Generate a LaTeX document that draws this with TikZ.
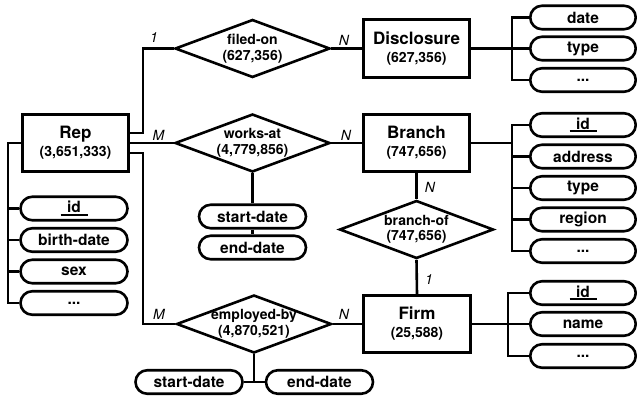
\documentclass[tikz,border=0pt]{standalone}
\usepackage{fontspec}
\setmainfont{TeX Gyre Heros}
\usetikzlibrary{shapes.geometric,shapes.misc}
\newcommand\idul{\makebox[27pt]{id}\llap{\rule[-2.8pt]{27pt}{2pt}}}
\newcommand\numf{\fontsize{14}{18}\selectfont}
\begin{document}
\begin{tikzpicture}[x=1pt,y=-1pt,line width=2.6pt,
  ent/.style={draw, rectangle, minimum width=106.5pt, minimum height=57.5pt, inner sep=0pt, align=center, font=\bfseries\fontsize{17}{18}\selectfont},
  rel/.style={draw, diamond, minimum width=155pt, minimum height=58pt, inner sep=0pt},
  rtext/.style={align=center, inner sep=0pt, font=\bfseries\fontsize{14}{15.5}\selectfont},
  attr/.style={draw, rounded rectangle, minimum width=107pt, minimum height=23.5pt, inner sep=0pt, font=\bfseries\fontsize{15.5}{16}\selectfont},
  rattr/.style={attr, minimum width=105.5pt},
  card/.style={font=\itshape\fontsize{14}{14}\selectfont, inner sep=0pt},
]
\useasboundingbox (0,0) rectangle (637,397);

% entities
\node[ent] (rep) at (75.5,143) {Rep\\{\numf (3,651,333)}};
\node[ent] (disc) at (416.5,48.5) {Disclosure\\{\numf (627,356)}};
\node[ent] (branch) at (416.5,143) {Branch\\{\numf (747,656)}};
\node[ent] (firm) at (417,324) {Firm\\{\numf (25,588)}};

% relationships
\node[rel, label={[rtext]center:{filed-on\\(627,356)}}] (filed) at (252.5,48.5) {};
\node[rel, label={[rtext]center:{works-at\\(4,779,856)}}] (works) at (252.5,143) {};
\node[rel, label={[rtext]center:{employed-by\\(4,870,521)}}] (employed) at (254,324) {};
\node[rel, minimum width=154pt, label={[rtext]center:{branch-of\\(747,656)}}] (branchof) at (416.5,229.5) {};

% Rep attributes
\node[attr] (rid) at (74,208.5) {\idul};
\node[attr] (rbirth) at (74,240) {birth-date};
\node[attr] (rsex) at (74,271.5) {sex};
\node[attr] (rdots) at (74,303) {...};

% works-at attributes
\node[attr] (wstart) at (252.5,216.5) {start-date};
\node[attr] (wend) at (252.5,247.5) {end-date};

% employed-by attributes
\node[attr] (estart) at (189,382) {start-date};
\node[attr] (eend) at (319.5,382) {end-date};

% Disclosure attributes
\node[rattr] (ddate) at (583,17.5) {date};
\node[rattr] (dtype) at (583,48.5) {type};
\node[rattr] (ddots) at (583,80) {...};

% Branch attributes
\node[rattr] (bid) at (583,125) {\idul};
\node[rattr] (baddr) at (583,156.5) {address};
\node[rattr] (btype) at (583,188) {type};
\node[rattr] (bregion) at (583,219.5) {region};
\node[rattr] (bdots) at (583,251) {...};

% Firm attributes
\node[rattr] (fid) at (583,293) {\idul};
\node[rattr] (fname) at (583,324) {name};
\node[rattr] (fdots) at (583,356) {...};

% bus coordinates
\coordinate (rbus) at (8,143);
\coordinate (rtop) at (143,133);
\coordinate (rbot) at (143,153);
\coordinate (dbus) at (512,48.5);
\coordinate (bbus) at (512,143);
\coordinate (fbus) at (508,324);

% connectors from Rep
\draw (rep.east |- rtop) -- (rtop) |- (filed.west);
\draw (rep.east) -- (works.west);
\draw (rep.east |- rbot) -- (rbot) |- (employed.west);
\draw (rep.west) -- (rbus) |- (rdots.west);
\draw (rid.west) -- (rid.west -| rbus);
\draw (rbirth.west) -- (rbirth.west -| rbus);
\draw (rsex.west) -- (rsex.west -| rbus);

% relationships to entities
\draw (filed.east) -- (disc.west);
\draw (works.east) -- (branch.west);
\draw (employed.east) -- (firm.west);
\draw (branch.south) -- (branchof.north);
\draw (branchof.south) -- (firm.north);

% relationship attributes
\draw (works.south) -- (wstart.north);
\draw (wstart.south) -- (wend.north);
\draw (employed.south) -- (employed.south |- estart.east);
\draw (estart.east) -- (eend.west);

% Disclosure bus
\draw (disc.east) -- (dbus);
\draw (ddate.west) -- (ddate.west -| dbus) -- (ddots.west -| dbus) -- (ddots.west);
\draw (dtype.west) -- (dtype.west -| dbus);

% Branch bus
\draw (branch.east) -- (bbus);
\draw (bid.west) -- (bid.west -| bbus) -- (bdots.west -| bbus) -- (bdots.west);
\draw (baddr.west) -- (baddr.west -| bbus);
\draw (btype.west) -- (btype.west -| bbus);
\draw (bregion.west) -- (bregion.west -| bbus);

% Firm bus
\draw (firm.east) -- (fbus);
\draw (fid.west) -- (fid.west -| fbus) -- (fdots.west -| fbus) -- (fdots.west);
\draw (fname.west) -- (fname.west -| fbus);

% cardinalities
\node[card] (c1) at (154,38) {1};
\node[card] (c2) at (158.5,135) {M};
\node[card] (c3) at (344,40) {N};
\node[card] (c4) at (346,135) {N};
\node[card] (c5) at (430,187) {N};
\node[card] (c6) at (429,280) {1};
\node[card] (c7) at (159,314) {M};
\node[card] (c8) at (344,314) {N};
\end{tikzpicture}
\end{document}
